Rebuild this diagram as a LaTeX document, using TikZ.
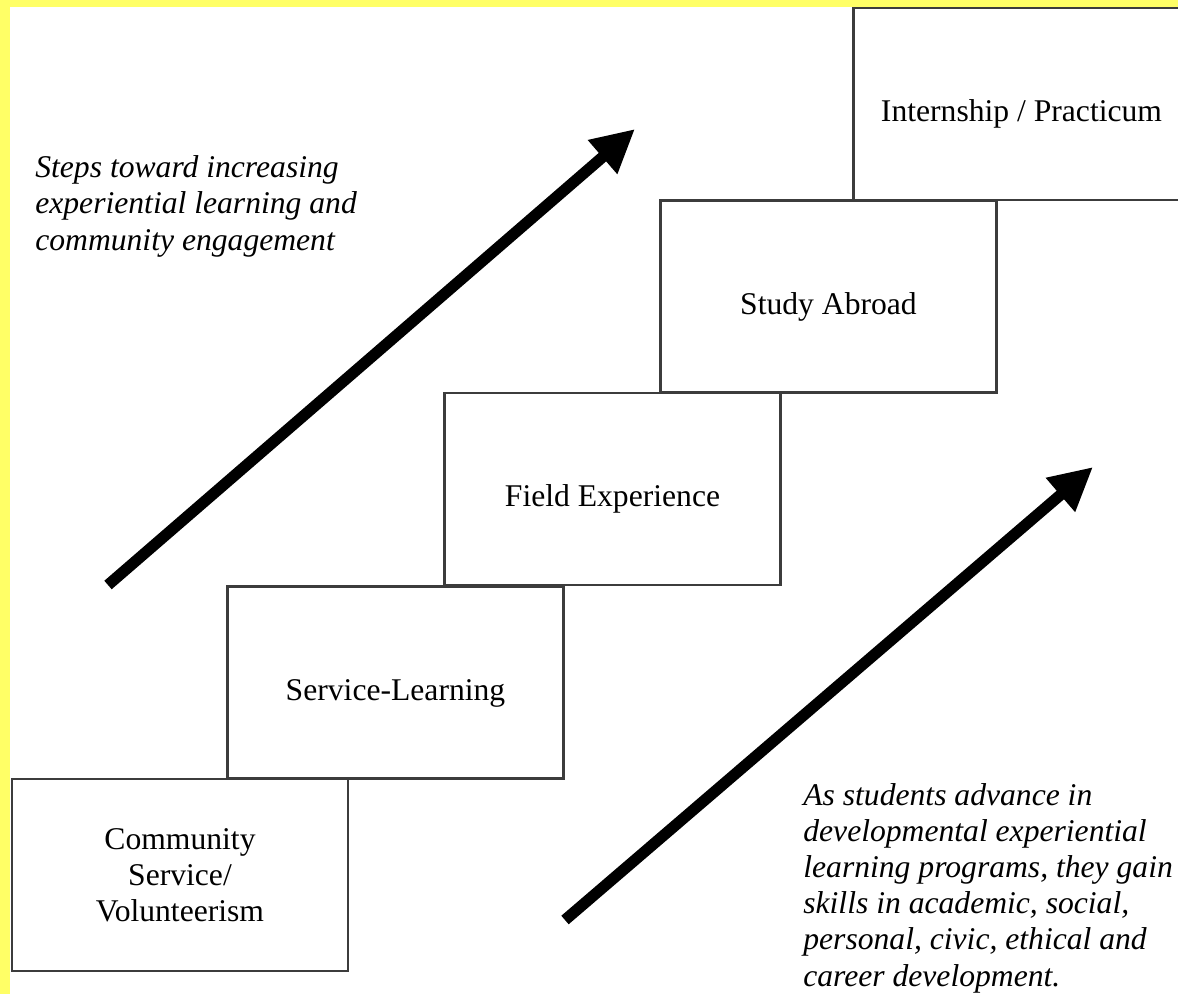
\documentclass[tikz,border=0pt]{standalone}
\usepackage{fontspec}
\setmainfont{Liberation Serif}
\usetikzlibrary{arrows.meta}
\definecolor{bordery}{RGB}{255,255,102}
\definecolor{boxline}{RGB}{60,60,60}
\tikzset{
  stepbox/.style={draw=boxline, line width=1.4pt, minimum width=6.72cm, minimum height=3.84cm,
    inner sep=0pt, align=center, font=\fontsize{18}{20.6}\selectfont},
  lowtext/.style={text height=24pt, text depth=4pt},
  note/.style={inner sep=0pt, align=left, font=\fontsize{18}{20.6}\selectfont\itshape},
  bigarrow/.style={line width=6.4pt, -{Triangle[length=0.86cm, width=0.84cm]}}
}
\begin{document}
\begin{tikzpicture}[x=0.02cm, y=-0.02cm]
    \useasboundingbox (0,0) rectangle (1178,994);
    \clip (0,0) rectangle (1178,994);
    \fill[bordery] (0,0) rectangle (1178,994);
    \fill[white] (10,7) rectangle (1178,994);
    \node[stepbox] (cs) at (180,875) {Community\\Service/\\Volunteerism};
    \node[stepbox, lowtext] (sl) at (395.5,682.5) {Service-Learning};
    \node[stepbox, lowtext] (fe) at (612.5,489) {Field Experience};
    \node[stepbox, lowtext] (sa) at (828.5,296.5) {Study Abroad};
    \node[stepbox, lowtext] (ip) at (1021.5,104) {Internship / Practicum};
    \node[note, anchor=base west] (steps) at (35,250) {Steps toward increasing\\experiential learning and\\community engagement};
    \node[note, anchor=base west] (gain) at (803,986) {As students advance in\\developmental experiential\\learning programs, they gain\\skills in academic, social,\\personal, civic, ethical and\\career development.};
    \coordinate (a1) at (108,585);
    \coordinate (b1) at (635,129);
    \coordinate (a2) at (565,920);
    \coordinate (b2) at (1093,467);
    \draw[bigarrow] (a1) -- (b1);
    \draw[bigarrow] (a2) -- (b2);
\end{tikzpicture}
\end{document}
